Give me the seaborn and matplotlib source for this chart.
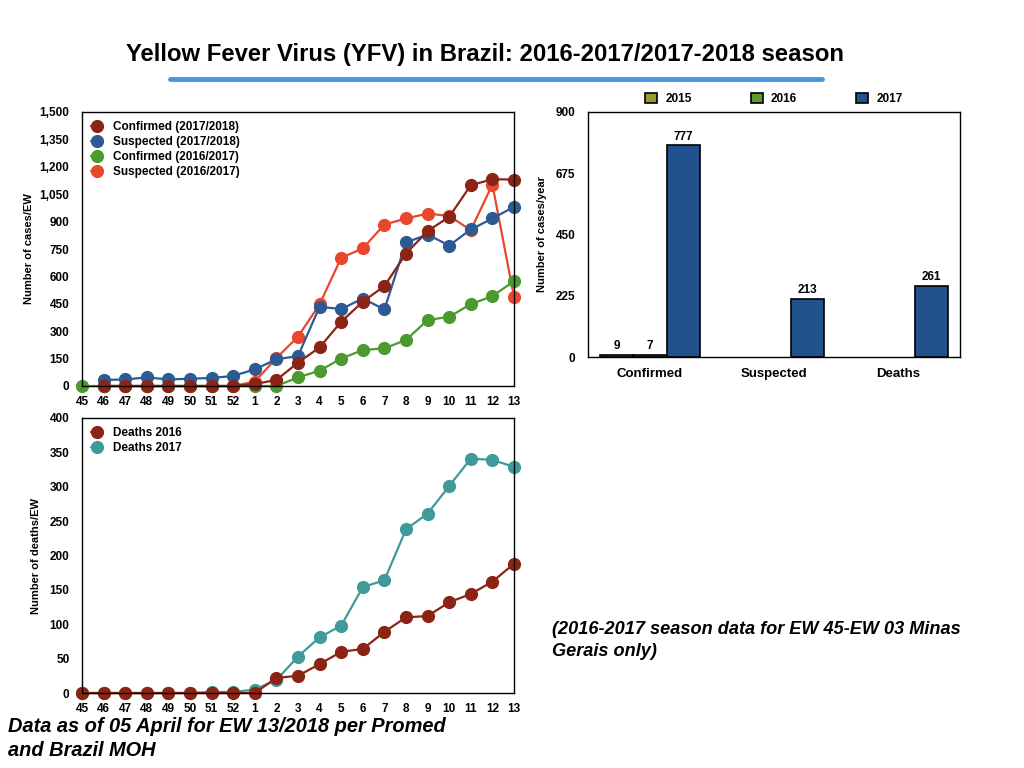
import numpy as np
import pandas as pd
import matplotlib
matplotlib.use("Agg")
import matplotlib.pyplot as plt
from matplotlib.ticker import FuncFormatter
import seaborn as sns

# epidemiological weeks (45-52 of first year, then 1-13)
weeks = ["45", "46", "47", "48", "49", "50", "51", "52",
         "1", "2", "3", "4", "5", "6", "7", "8", "9", "10", "11", "12", "13"]

nan = np.nan
confirmed_1718 = [nan, 0, 0, 0, 0, 0, 0, 0, 11, 33, 128, 211, 352, 461, 547,
                  725, 848, 926, 1099, 1132, 1130]
suspected_1718 = [nan, 33, 36, 47, 36, 40, 44, 55, 91, 146, 164, 434, 421, 479,
                  419, 786, 829, 769, 857, 917, 981]
confirmed_1617 = [0, 0, 0, 0, 0, 0, 0, 0, 0, 0, 47, 84, 150, 197, 206, 252,
                  361, 379, 448, 492, 574]
suspected_1617 = [nan, 0, 0, 0, 0, 0, 0, 0, 24, 153, 270, 447, 702, 753, 884,
                  917, 944, 931, 853, 1103, 488]

deaths_2016 = [0, 0, 0, 0, 0, 0, 0, 0, 0, 22, 25, 42, 60, 64, 89, 110, 112,
               132, 144, 162, 188]
deaths_2017 = [0, 0, 0, 0, 0, 0, 1.5, 1.5, 5, 19, 53, 81, 98, 154, 164, 238,
               261, 301, 341, 339, 329]

bar_measures = ["Confirmed", "Suspected", "Deaths"]
bar_2015 = [9, nan, nan]
bar_2016 = [7, nan, nan]
bar_2017 = [777, 213, 261]

RED = "#8c2416"
BLUE = "#2b5a94"
GREEN = "#4b9a2e"
ORANGE = "#e9472b"
TEAL = "#3f9a9a"

sns.set_theme(style="white")
plt.rcParams["font.family"] = ["Liberation Sans", "DejaVu Sans"]
plt.rcParams["font.weight"] = "bold"
for key in ["text.color", "axes.labelcolor", "xtick.color", "ytick.color"]:
    plt.rcParams[key] = "black"

fig = plt.figure(figsize=(10.24, 7.68), dpi=100)
fig.patch.set_facecolor("white")

pos = np.arange(len(weeks))


def style_axes(ax):
    for s in ax.spines.values():
        s.set_color("black")
        s.set_linewidth(1.0)
    ax.tick_params(length=0, labelsize=8.5)
    ax.tick_params(axis="x", pad=7)
    ax.tick_params(axis="y", pad=9)
    for lab in ax.get_xticklabels() + ax.get_yticklabels():
        lab.set_fontweight("bold")


# ---- top left: cases per EW
ax1 = fig.add_axes([82 / 1024, 1 - 386 / 768, 432 / 1024, 274 / 768])
series_top = [
    ("Suspected (2016/2017)", suspected_1617, ORANGE),
    ("Confirmed (2016/2017)", confirmed_1617, GREEN),
    ("Suspected (2017/2018)", suspected_1718, BLUE),
    ("Confirmed (2017/2018)", confirmed_1718, RED),
]
for name, vals, col in series_top:
    df = pd.DataFrame({"pos": pos, "val": vals}).dropna()
    sns.lineplot(data=df, x="pos", y="val", color=col, marker="o",
                 markersize=9.5, markeredgewidth=0, linewidth=1.6,
                 label=name, ax=ax1, clip_on=False)
ax1.set_xlim(0, 20)
ax1.set_ylim(0, 1500)
ax1.set_yticks(np.arange(0, 1501, 150))
ax1.yaxis.set_major_formatter(FuncFormatter(lambda v, p: f"{int(v):,}"))
ax1.set_xticks(pos)
ax1.set_xticklabels(weeks)
ax1.set_xlabel("")
ax1.set_ylabel("Number of cases/EW", fontsize=8, fontweight="bold", labelpad=4)
h, l = ax1.get_legend_handles_labels()
order = [3, 2, 1, 0]
ax1.legend([h[i] for i in order], [l[i] for i in order], loc="upper left",
           frameon=False, handlelength=1.0, handletextpad=0.8,
           labelspacing=0.25, borderaxespad=0.4,
           prop={"weight": "bold", "size": 8.5})
style_axes(ax1)

# ---- bottom left: deaths per EW
ax2 = fig.add_axes([82 / 1024, 1 - 693 / 768, 432 / 1024, 275 / 768])
series_bot = [
    ("Deaths 2017", deaths_2017, TEAL),
    ("Deaths 2016", deaths_2016, RED),
]
for name, vals, col in series_bot:
    df = pd.DataFrame({"pos": pos, "val": vals})
    sns.lineplot(data=df, x="pos", y="val", color=col, marker="o",
                 markersize=9.5, markeredgewidth=0, linewidth=1.6,
                 label=name, ax=ax2, clip_on=False)
ax2.set_xlim(0, 20)
ax2.set_ylim(0, 400)
ax2.set_yticks(np.arange(0, 401, 50))
ax2.set_xticks(pos)
ax2.set_xticklabels(weeks)
ax2.set_xlabel("")
ax2.set_ylabel("Number of deaths/EW", fontsize=8, fontweight="bold", labelpad=6)
h, l = ax2.get_legend_handles_labels()
ax2.legend([h[1], h[0]], [l[1], l[0]], loc="upper left", frameon=False,
           handlelength=1.0, handletextpad=0.8, labelspacing=0.25,
           borderaxespad=0.4, prop={"weight": "bold", "size": 8.5})
style_axes(ax2)

# ---- top right: yearly totals
ax3 = fig.add_axes([588 / 1024, 1 - 357 / 768, 372 / 1024, 245 / 768])
bar_df = pd.DataFrame({
    "measure": bar_measures * 3,
    "year": ["2015"] * 3 + ["2016"] * 3 + ["2017"] * 3,
    "count": bar_2015 + bar_2016 + bar_2017,
})
sns.barplot(data=bar_df, x="measure", y="count", hue="year",
            palette={"2015": "#9a9a32", "2016": "#5b9a2b", "2017": "#22528e"},
            saturation=1, edgecolor="black", linewidth=1.2, ax=ax3)
for cont in ax3.containers:
    labels = ["" if np.isnan(v) else f"{v:.0f}" for v in cont.datavalues]
    ax3.bar_label(cont, labels=labels, padding=2, fontsize=8.5, fontweight="bold")
ax3.set_xlim(-0.5, 2.5)
ax3.set_ylim(0, 900)
ax3.set_yticks([0, 225, 450, 675, 900])
ax3.set_xlabel("")
ax3.set_ylabel("Number of cases/year", fontsize=8, fontweight="bold", labelpad=6)
ax3.legend(loc="lower center", bbox_to_anchor=(0.5, 0.985), ncol=3,
           frameon=False, handlelength=1.0, handleheight=1.0,
           columnspacing=5.0, handletextpad=0.7,
           prop={"weight": "bold", "size": 8.5})
style_axes(ax3)
ax3.tick_params(axis="x", labelsize=9.5, pad=8)

# ---- titles and notes
fig.text(485 / 1024, 1 - 55 / 768, "Yellow Fever Virus (YFV) in Brazil: 2016-2017/2017-2018 season",
         ha="center", va="center", fontsize=17.2, fontweight="bold")
fig.add_artist(plt.Line2D([170 / 1024, 822 / 1024], [1 - 79 / 768, 1 - 79 / 768],
                          color="#4a94e6", linewidth=3.5))
fig.text(8 / 1024, 1 - 727 / 768, "Data as of 05 April for EW 13/2018 per Promed",
         ha="left", va="center", fontsize=14.4, fontweight="bold", style="italic")
fig.text(8 / 1024, 1 - 750 / 768, "and Brazil MOH",
         ha="left", va="center", fontsize=14.4, fontweight="bold", style="italic")
fig.text(552 / 1024, 1 - 630 / 768, "(2016-2017 season data for EW 45-EW 03 Minas",
         ha="left", va="center", fontsize=13.1, fontweight="bold", style="italic")
fig.text(552 / 1024, 1 - 652 / 768, "Gerais only)",
         ha="left", va="center", fontsize=13.1, fontweight="bold", style="italic")

fig.savefig("out.png", dpi=100, facecolor="white")
